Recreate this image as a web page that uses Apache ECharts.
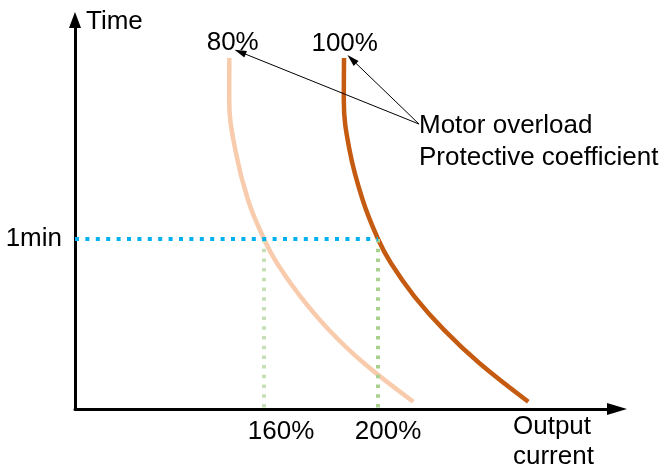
<!DOCTYPE html>
<html>
<head>
<meta charset="utf-8">
<script src="https://cdn.jsdelivr.net/npm/echarts@6/dist/echarts.min.js"></script>
<style>html,body{margin:0;padding:0;background:#fff}#c{width:662px;height:468px}</style>
</head>
<body>
<div id="c"></div>
<script>
// ---- data ----
const xTickValues = [160, 200];              // output current, %
const xTickLabels = ['160%', '200%'];
const yTickValues = [1];                      // time
const yTickLabels = ['1min'];
const curveLabels = ['80%', '100%'];
// motor overload protection curves: [output current %, time (min)]
const curve80 = [[147.82,2.065],[147.79,1.818],[149.93,1.524],[154.39,1.229],[160,1],[164.56,0.857],[172.81,0.661],[182.81,0.465],[195.09,0.269],[212.39,0.043]];
const curve100 = [[188.07,2.065],[188.0,1.818],[190.0,1.524],[194.63,1.229],[200,1],[204.56,0.857],[212.81,0.661],[223.16,0.465],[235.61,0.269],[252.74,0.043]];
const xRange = [93.68, 283.86];
const yRange = [0, 2.288];
const annotationText = ['Motor overload', 'Protective coefficient'];
const annotationFrom = [214.4, 1.676];
const annotationTo80 = [151.6, 2.1];
const annotationTo100 = [190.8, 2.057];

const FONT = '"Liberation Sans", Arial, sans-serif';
const FS = 26;
const chart = echarts.init(document.getElementById('c'), null, {renderer: 'canvas'});

const option = {
  animation: false,
  backgroundColor: '#fff',
  grid: {left: 75, right: 45, top: 20, bottom: 59, containLabel: false, outerBoundsMode: 'none'},
  xAxis: {
    type: 'value', min: xRange[0], max: xRange[1],
    name: 'Output\ncurrent', nameLocation: 'end', nameGap: -104,
    nameTextStyle: {fontFamily: FONT, fontSize: FS, color: '#000', align: 'left', verticalAlign: 'top', lineHeight: 30, padding: [3, 0, 0, 0]},
    axisLine: {show: true, onZero: false, symbol: ['none', 'triangle'], symbolSize: [12, 20], lineStyle: {color: '#000', width: 3}},
    axisTick: {show: false},
    splitLine: {show: false},
    axisLabel: {
      customValues: xTickValues, margin: 10,
      formatter: v => { const i = xTickValues.indexOf(v); return i === 0 ? '{a|' + xTickLabels[0] + '}' : '{b|' + xTickLabels[1] + '}'; },
      rich: {
        a: {fontFamily: FONT, fontSize: FS, color: '#000', padding: [0, 0, 0, 34]},
        b: {fontFamily: FONT, fontSize: FS, color: '#000', padding: [0, 0, 0, 20]}
      }
    }
  },
  yAxis: {
    type: 'value', min: yRange[0], max: yRange[1],
    name: 'Time', nameLocation: 'end', nameGap: -2,
    nameTextStyle: {fontFamily: FONT, fontSize: FS, color: '#000', align: 'left', verticalAlign: 'middle', padding: [0, 0, 0, 11]},
    axisLine: {show: true, onZero: false, symbol: ['none', 'triangle'], symbolSize: [12, 16], lineStyle: {color: '#000', width: 3}},
    axisTick: {show: false},
    splitLine: {show: false},
    axisLabel: {
      customValues: yTickValues, margin: 13,
      formatter: v => yTickLabels[yTickValues.indexOf(v)] || '',
      fontFamily: FONT, fontSize: FS, color: '#000', padding: [0, 0, 6, 0]
    }
  },
  graphic: [
    {type: 'text', silent: true, style: {text: curveLabels[0], x: 232.7, y: 43, align: 'center', verticalAlign: 'middle', font: FS + 'px ' + FONT, fill: '#000'}},
    {type: 'text', silent: true, style: {text: curveLabels[1], x: 344.7, y: 43.5, align: 'center', verticalAlign: 'middle', font: FS + 'px ' + FONT, fill: '#000'}},
    {type: 'text', silent: true, style: {text: annotationText[0], x: 419, y: 126, align: 'left', verticalAlign: 'middle', font: FS + 'px ' + FONT, fill: '#000'}},
    {type: 'text', silent: true, style: {text: annotationText[1], x: 419, y: 158.3, align: 'left', verticalAlign: 'middle', font: FS + 'px ' + FONT, fill: '#000'}}
  ],
  series: [
    {type: 'line', data: curve80, smooth: 0.4, showSymbol: false, silent: true, z: 2,
     lineStyle: {color: '#f8cbad', width: 4.5}},
    {type: 'line', data: curve100, smooth: 0.4, showSymbol: false, silent: true, z: 2,
     lineStyle: {color: '#c55a11', width: 4.5}},
    {type: 'line', data: [[xTickValues[0], yTickValues[0]], [xTickValues[0], yRange[0]]], showSymbol: false, silent: true, z: 3,
     lineStyle: {color: '#c5e0b4', width: 4, type: [3.5, 6.2]}},
    {type: 'line', data: [[xTickValues[1], yTickValues[0]], [xTickValues[1], yRange[0]]], showSymbol: false, silent: true, z: 3,
     lineStyle: {color: '#a9d18e', width: 4, type: [3.5, 6.2]}},
    {type: 'line', data: [[xRange[0], yTickValues[0]], [xTickValues[1], yTickValues[0]]], showSymbol: false, silent: true, z: 4,
     lineStyle: {color: '#00b0f0', width: 4, type: [4, 6.4]},
     markLine: {
       silent: true, animation: false,
       symbol: ['none', 'triangle'], symbolSize: [7, 12],
       label: {show: false},
       lineStyle: {color: '#000', width: 1, type: 'solid'},
       emphasis: {disabled: true},
       data: [
         [{coord: annotationFrom}, {coord: annotationTo80}],
         [{coord: annotationFrom}, {coord: annotationTo100}]
       ]
     }}
  ]
};
chart.setOption(option);
</script>
</body>
</html>
